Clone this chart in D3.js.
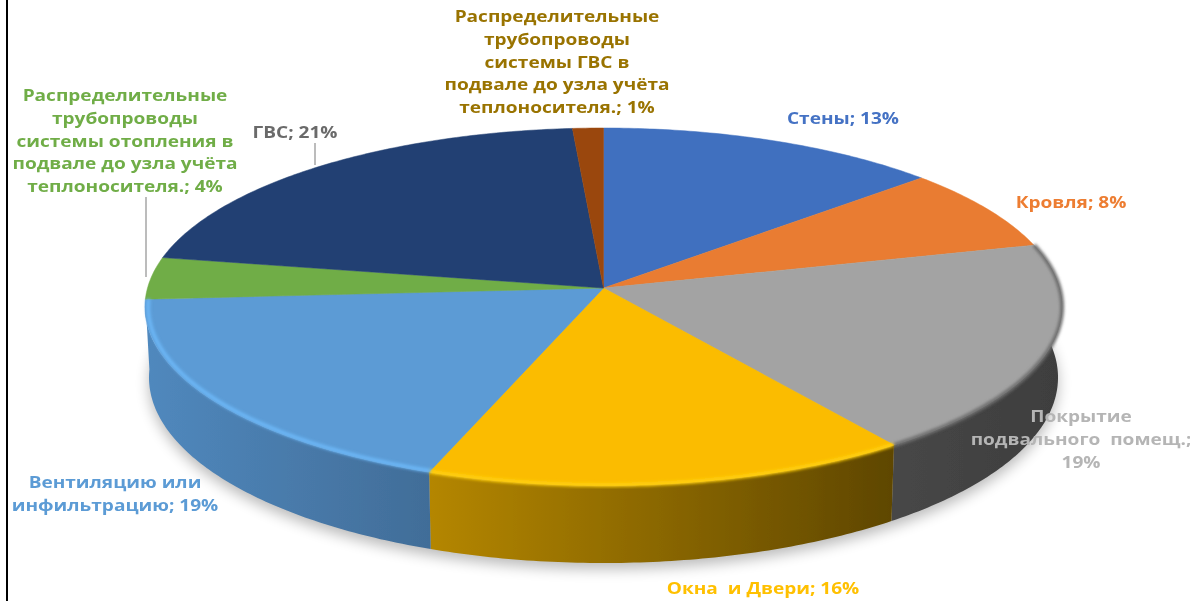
<!DOCTYPE html>
<html><head><meta charset="utf-8">
<script src="https://cdn.jsdelivr.net/npm/d3@7/dist/d3.min.js"></script>
<style>html,body{margin:0;padding:0;background:#fff;overflow:hidden}svg{display:block}
text{font-family:"Open Sans",sans-serif;font-weight:700;font-size:15.5px;text-anchor:middle}</style>
</head><body><svg id="c" width="1190" height="601"></svg>
<script>
// slice sizes estimated from the drawn boundaries; labelPercents are the printed figures
const sliceValues=[13.4,7.6,19.1,15.5,18.4,3.8,21,1.2];
const labelPercents=[13,8,19,16,19,4,21,1];
const topColors=["#4170bf","#e97c30","#a3a3a3","#fbbc00","#5b9bd5","#70ad47","#234073","#9a470c"];
const wallLeft=[null,null,"#474747","#b48600","#5088bd",null,null,null];
const wallRight=[null,null,"#3e3e3e","#5f4700","#416d98",null,null,null];
const labelColors=["#4472c4","#ed7d31","#b5b5b5","#ffc000","#5b9bd5","#70ad47","#6a6a6a","#997300"];
const labelLines=[
 ["Стены; {p}%"],["Кровля; {p}%"],["Покрытие","подвального  помещ.;","{p}%"],["Окна  и Двери; {p}%"],
 ["Вентиляцию или","инфильтрацию; {p}%"],
 ["Распределительные","трубопроводы","системы отопления в","подвале до узла учёта","теплоносителя.; {p}%"],
 ["ГВС; {p}%"],
 ["Распределительные","трубопроводы","системы ГВС в","подвале до узла учёта","теплоносителя.; {p}%"]];
const labelAnchors=[[843,124],[1071,208],[1081,422],[763,594],[115,488],[125,101],[295,138],[557,22]];
const leaders=[[[315,143],[315,165]],[[146,197],[146,277]]];

const svg=d3.select("#c");
const defs=svg.append("defs");
defs.append("filter").attr("id","soft").append("feGaussianBlur").attr("stdDeviation",0.6);
defs.append("filter").attr("id","shadow").attr("x","-10%").attr("y","-10%").attr("width","120%").attr("height","120%").append("feGaussianBlur").attr("stdDeviation",7);
defs.append("filter").attr("id","bevel").attr("x","-10%").attr("y","-10%").attr("width","120%").attr("height","120%").append("feGaussianBlur").attr("stdDeviation",1.6);

// perspective projection of the pie disc
const k=0.105, cx=603.5;
const topPt=(a,s=1)=>{const u=Math.sin(a),v=-Math.cos(a),w=1-k*v;return [cx+s*456*u/w,288+s*176.8*v/w];};
const botPt=a=>{const u=Math.sin(a),v=-Math.cos(a),w=1-k*v;return [cx+452*u/w,358+183.5*v/w];};
const arcs=d3.pie().sort(null).startAngle(0).endAngle(2*Math.PI)(sliceValues);
const samples=(a,b)=>{const n=Math.max(3,Math.ceil((b-a)*80));return d3.range(n+1).map(i=>a+(b-a)*i/n);};
const line=d3.line();

const g=svg.append("g").attr("filter","url(#soft)");
// shadow
g.append("path").attr("filter","url(#shadow)").attr("fill","#000").attr("opacity",0.27)
 .attr("d",line(samples(Math.PI*0.35,Math.PI*1.65).map(a=>{const p=botPt(a);return [p[0],p[1]+6];}))+"Z");
// side walls: only the three front slices show a wall
arcs.forEach((d,i)=>{
  if(!wallLeft[i])return;
  const pts=samples(d.startAngle,d.endAngle);
  const id="w"+i,xs=pts.map(a=>botPt(a)[0]);
  const grad=defs.append("linearGradient").attr("id",id).attr("gradientUnits","userSpaceOnUse")
    .attr("x1",d3.min(xs)).attr("x2",d3.max(xs)).attr("y1",0).attr("y2",0);
  grad.append("stop").attr("offset",0).attr("stop-color",wallLeft[i]);
  grad.append("stop").attr("offset",1).attr("stop-color",wallRight[i]);
  g.append("path").attr("fill",`url(#${id})`)
   .attr("d",line(pts.map(a=>topPt(a)).concat(pts.slice().reverse().map(botPt)))+"Z");
});
// top faces
arcs.forEach((d,i)=>{
  const pts=samples(d.startAngle,d.endAngle);
  g.append("path").attr("fill",topColors[i]).attr("stroke",topColors[i]).attr("stroke-width",0.5)
   .attr("d",line([[cx,288]].concat(pts.map(a=>topPt(a))))+"Z");
});
// bevel on visible rim
const rimColors={2:"#6e6e6e",3:"#ffcf10",4:"#6cb6f5"};
const rimScale={2:1,3:0.997,4:0.993};
Object.keys(rimColors).forEach(i=>{
  const d=arcs[i];
  g.append("path").attr("fill","none").attr("stroke",rimColors[i]).attr("stroke-width",4).attr("filter","url(#bevel)")
   .attr("d",line(samples(d.startAngle,d.endAngle).map(a=>topPt(a,rimScale[i]))));
});
// labels
leaders.forEach(l=>svg.append("path").attr("d",line(l)).attr("stroke","#a6a6a6").attr("stroke-width",1.5).attr("fill","none"));
const lg=svg.append("g").attr("filter","url(#soft)");
labelLines.forEach((ls,i)=>{
  const t=lg.append("text").attr("fill",labelColors[i])
    .attr("transform",`translate(${labelAnchors[i][0]},${labelAnchors[i][1]}) scale(1.23,1)`);
  ls.forEach((s,j)=>t.append("tspan").attr("x",0).attr("dy",j?22.8:0).attr("xml:space","preserve").text(s.replace("{p}",labelPercents[i])));
});
// frame edge
svg.append("line").attr("x1",7).attr("x2",7).attr("y1",0).attr("y2",601).attr("stroke","#000").attr("stroke-width",2);
</script></body></html>
